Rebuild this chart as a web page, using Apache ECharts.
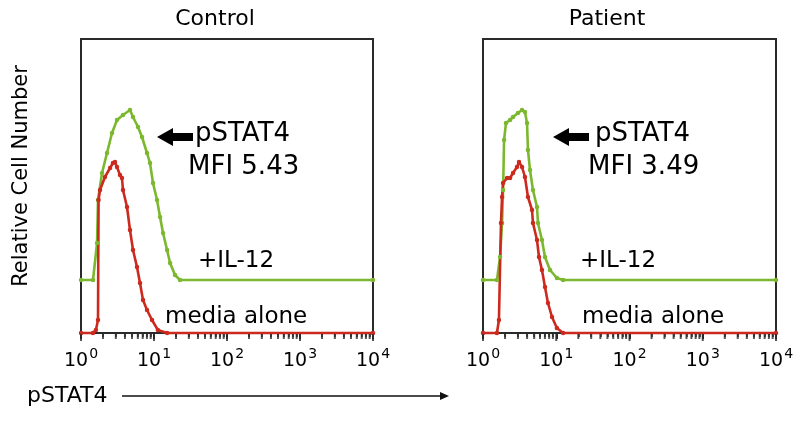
<!DOCTYPE html>
<html>
<head>
<meta charset="utf-8">
<script src="https://cdn.jsdelivr.net/npm/echarts@6/dist/echarts.min.js"></script>
<style>html,body{margin:0;padding:0;background:#fff}#c{width:800px;height:421px}</style>
</head>
<body>
<div id="c"></div>
<script>
// ---- data (fluorescence intensity, relative cell count) ----
const panelTitles = ['Control', 'Patient'];
const mfiLabels = ['MFI 5.43', 'MFI 3.49'];
const tickExponents = ['0', '1', '2', '3', '4'];
const majorTickValues = [1, 10, 100, 1000, 10000];
const minorTickValues = [2,3,4,5,6,7,8,9,20,30,40,50,60,70,80,90,200,300,400,500,600,700,800,900,2000,3000,4000,5000,6000,7000,8000,9000];

const controlIL12 = [[1,53],[1.46,53],[1.66,90],[1.71,133],[1.94,160],[2.27,180],[2.66,200],[3.11,213],[3.76,218],[4.69,223],[5.16,216],[6.04,206],[6.85,196],[8.02,180],[8.81,170],[9.69,150],[11.0,133],[12.1,116],[13.3,100],[15.1,83],[16.6,70],[19.4,58],[22.7,53],[10000,53]];
const controlMedia = [[1,0],[1.46,0],[1.60,3],[1.71,13],[1.74,133],[1.82,143],[2.13,156],[2.50,165],[2.74,170],[2.92,171],[3.11,166],[3.42,158],[3.64,155],[3.76,143],[4.27,126],[4.69,103],[5.16,83],[5.85,66],[6.43,50],[7.07,33],[8.02,23],[9.39,13],[11.3,3],[15.1,0],[10000,0]];
const patientIL12 = [[1,53],[1.55,53],[1.71,76],[1.82,110],[1.88,143],[1.94,193],[2.06,210],[2.34,213],[2.57,216],[3.00,220],[3.41,223],[3.74,221],[3.99,210],[4.11,183],[4.38,163],[4.81,143],[5.46,126],[5.63,110],[6.38,93],[7.02,76],[8.22,63],[10.2,55],[12.4,53],[10000,53]];
const patientMedia = [[1,0],[1.55,0],[1.65,13],[1.76,110],[1.82,136],[1.88,150],[2.13,155],[2.34,155],[2.57,160],[2.91,166],[3.10,171],[3.41,166],[3.74,156],[4.11,136],[4.67,123],[4.81,110],[5.46,93],[5.81,76],[6.38,63],[7.02,46],[7.71,30],[8.75,16],[10.2,5],[12.4,0],[10000,0]];

const FONT = '"DejaVu Sans", Verdana, sans-serif';
const GREEN = '#7cb82f';
const RED = '#cc2a1f';
const AX = '#2a2a2a';

const grids = [
  {left: 81, top: 39, width: 292, height: 294},
  {left: 483, top: 39, width: 293, height: 294}
];

const xAxes = [];
const yAxes = [];
grids.forEach((g, i) => {
  xAxes.push({
    type: 'log', logBase: 10, min: 1, max: 10000, gridIndex: i,
    axisLine: {show: true, lineStyle: {color: AX, width: 2}},
    axisTick: {show: true, length: 6, lineStyle: {color: AX, width: 2}},
    minorTick: {show: true, splitNumber: 9, length: 4, lineStyle: {color: AX, width: 1.5}},
    splitLine: {show: false},
    axisLabel: {
      margin: 14,
      formatter: v => {
        const e = Math.round(Math.log10(v));
        return '{b|10}{s|' + tickExponents[e] + '}';
      },
      rich: {
        b: {fontSize: 19, fontFamily: FONT, color: '#000', lineHeight: 24, verticalAlign: 'bottom'},
        s: {fontSize: 14, fontFamily: FONT, color: '#000', lineHeight: 24, verticalAlign: 'top', padding: [0, 0, 0, 1]}
      }
    }
  });
  yAxes.push({
    type: 'value', min: 0, max: 294, gridIndex: i,
    axisLine: {show: false}, axisTick: {show: false}, axisLabel: {show: false}, splitLine: {show: false}
  });
});

function histo(data, color, gi) {
  return {
    type: 'line', data: data, xAxisIndex: gi, yAxisIndex: gi, z: 3,
    symbol: 'circle', symbolSize: 4.5, showSymbol: true, clip: false,
    itemStyle: {color: color}, lineStyle: {color: color, width: 2.6}
  };
}

function ticks(values, len, gi) {
  return {
    type: 'scatter', xAxisIndex: gi, yAxisIndex: gi, clip: false, z: 5,
    data: values.map(v => [v, 0]),
    symbol: 'rect', symbolSize: [2, len], symbolOffset: [0, len / 2 + 1],
    itemStyle: {color: AX}
  };
}

function leftArrow(tipX, y) {
  return {type: 'polygon', shape: {points: [[tipX, y], [tipX + 16, y - 9], [tipX + 16, y - 4], [tipX + 36, y - 4], [tipX + 36, y + 4], [tipX + 16, y + 4], [tipX + 16, y + 9]]}, style: {fill: '#000'}};
}
function txt(x, y, text, size, align) {
  return {type: 'text', x: x, y: y, style: {text: text, font: size + 'px ' + FONT, fill: '#000', align: align || 'left', verticalAlign: 'middle'}};
}

const chart = echarts.init(document.getElementById('c'), null, {renderer: 'canvas'});
chart.setOption({
  animation: false,
  grid: grids.map(g => Object.assign({show: true, borderColor: AX, borderWidth: 2}, g)),
  xAxis: xAxes,
  yAxis: yAxes,
  series: [
    ticks(majorTickValues, 7, 0),
    ticks(minorTickValues, 5, 0),
    ticks(majorTickValues, 7, 1),
    ticks(minorTickValues, 5, 1),
    histo(controlIL12, GREEN, 0),
    histo(controlMedia, RED, 0),
    histo(patientIL12, GREEN, 1),
    histo(patientMedia, RED, 1)
  ],
  graphic: [
    txt(215, 19, panelTitles[0], 22, 'center'),
    txt(607, 19, panelTitles[1], 22, 'center'),
    {type: 'text', x: 22, y: 176, rotation: Math.PI / 2, style: {text: 'Relative Cell Number', font: '21px ' + FONT, fill: '#000', align: 'center', verticalAlign: 'middle'}},
    leftArrow(157, 137),
    txt(195, 134, 'pSTAT4', 26),
    txt(188, 167, mfiLabels[0], 26),
    txt(198, 261, '+IL-12', 23),
    txt(165, 317, 'media alone', 23),
    leftArrow(553, 137),
    txt(595, 134, 'pSTAT4', 26),
    txt(588, 167, mfiLabels[1], 26),
    txt(580, 261, '+IL-12', 23),
    txt(582, 317, 'media alone', 23),
    txt(27, 396, 'pSTAT4', 22),
    {type: 'line', shape: {x1: 122, y1: 396, x2: 442, y2: 396}, style: {stroke: '#111', lineWidth: 1.5}},
    {type: 'polygon', shape: {points: [[449, 396], [440, 392], [440, 400]]}, style: {fill: '#111'}}
  ]
});
</script>
</body>
</html>
